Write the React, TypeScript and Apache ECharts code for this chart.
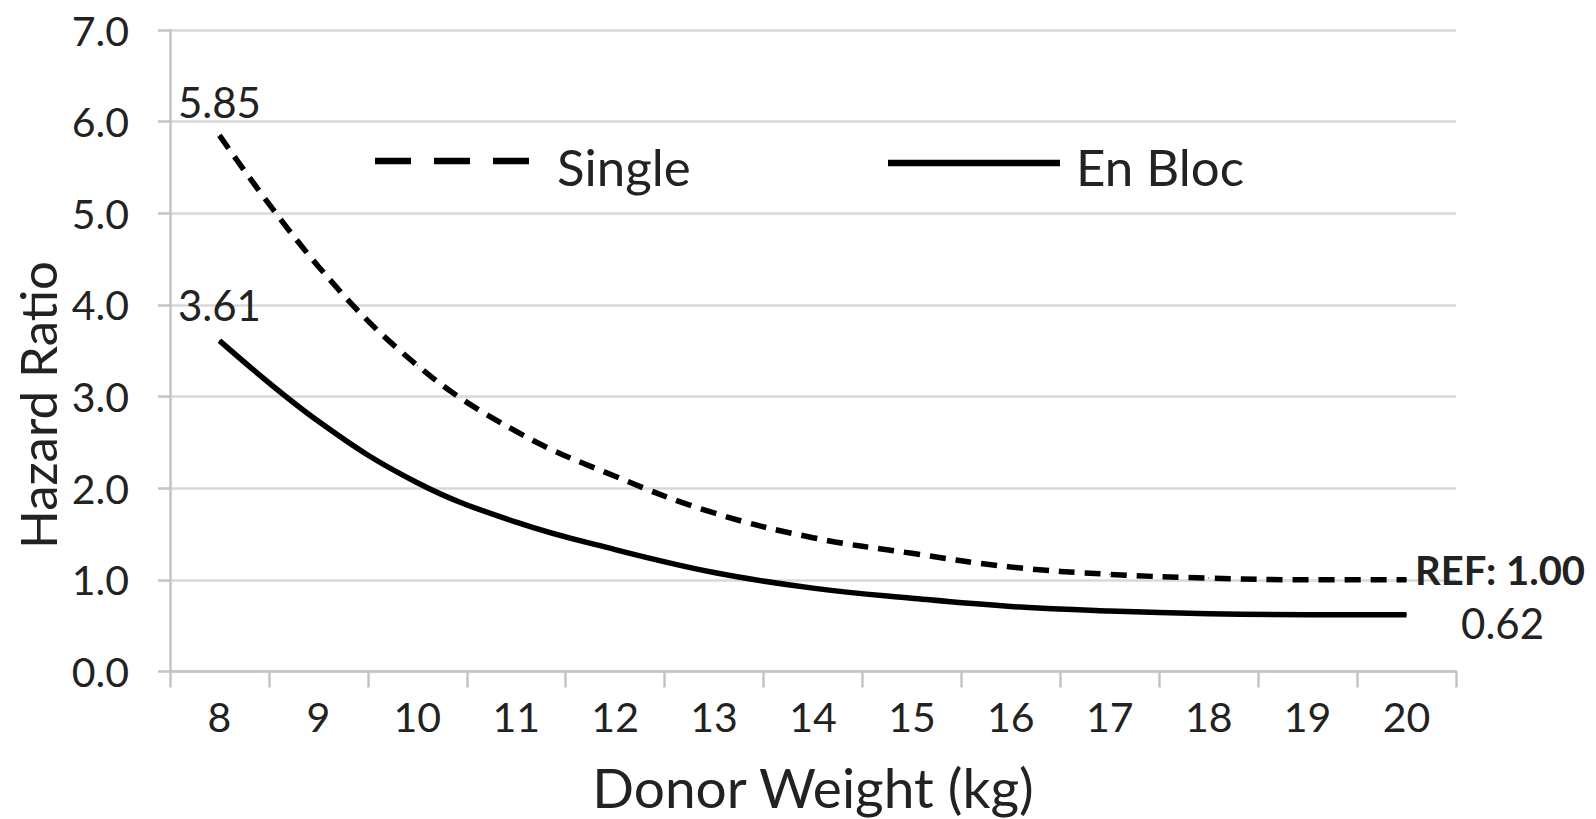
import React, { useEffect, useRef } from "react";
import * as echarts from "echarts";

const weights = ["8", "9", "10", "11", "12", "13", "14", "15", "16", "17", "18", "19", "20"];
const singleHR = [5.85, 4.42, 3.34, 2.62, 2.13, 1.73, 1.46, 1.29, 1.14, 1.06, 1.02, 1.0, 1.0];
const enBlocHR = [3.61, 2.73, 2.06, 1.63, 1.33, 1.08, 0.91, 0.8, 0.71, 0.66, 0.63, 0.62, 0.62];
const yTicks = [0, 1, 2, 3, 4, 5, 6, 7];
const seriesNames = ["Single", "En Bloc"];
const singleStartLabel = "5.85";
const singleEndLabel = "REF: 1.00";
const enBlocStartLabel = "3.61";
const enBlocEndLabel = "0.62";

const FONT = "Lato";
const TXT = "#222222";

export default function App() {
  const ref = useRef<HTMLDivElement>(null);
  useEffect(() => {
    if (!ref.current) return;
    const chart = echarts.init(ref.current, null, { renderer: "svg" });
    const last = weights.length - 1;
    const mk = (
      vals: number[],
      startLbl: string,
      startDist: number,
      endLbl: string,
      endBold: boolean,
      endSize: number,
      endDist: number,
      endOffY: number
    ) =>
      vals.map((v, i) => {
        if (i === 0)
          return {
            value: v,
            label: { show: true, position: "top", distance: startDist, formatter: startLbl, fontSize: 42, fontFamily: FONT, color: TXT },
          };
        if (i === last)
          return {
            value: v,
            label: {
              show: true,
              position: "right",
              distance: endDist,
              offset: [0, endOffY],
              formatter: endLbl,
              fontSize: endSize,
              fontWeight: endBold ? "bold" : "normal",
              fontFamily: FONT,
              color: TXT,
            },
          };
        return v;
      });
    chart.setOption({
      animation: false,
      backgroundColor: "#ffffff",
      grid: { left: 170, right: 140, top: 30, bottom: 147, containLabel: false },
      xAxis: {
        type: "category",
        data: weights,
        boundaryGap: true,
        axisLine: { show: true, lineStyle: { color: "#c4c4c4", width: 2.5 } },
        axisTick: { show: true, length: 16, lineStyle: { color: "#c4c4c4", width: 2.5 } },
        axisLabel: { fontSize: 41, fontFamily: FONT, color: TXT, margin: 45, interval: 0, verticalAlign: "middle", lineHeight: 41 },
        name: "Donor Weight (kg)",
        nameLocation: "middle",
        nameGap: 115,
        nameTextStyle: { fontSize: 55, fontFamily: FONT, color: TXT, verticalAlign: "middle" },
      },
      yAxis: {
        type: "value",
        min: yTicks[0],
        max: yTicks[yTicks.length - 1],
        interval: 1,
        axisLine: { show: true, lineStyle: { color: "#c4c4c4", width: 2.5 } },
        axisTick: { show: true, length: 12, lineStyle: { color: "#c4c4c4", width: 2.5 } },
        axisLabel: {
          fontSize: 41,
          fontFamily: FONT,
          color: TXT,
          margin: 41,
          formatter: (v: number) => v.toFixed(1),
        },
        splitLine: { show: true, lineStyle: { color: "#d9d9d9", width: 2.5 } },
      },
      graphic: [
        {
          type: "text",
          x: 37,
          y: 405,
          rotation: Math.PI / 2,
          style: { text: "Hazard Ratio", fontSize: 51, fontFamily: FONT, fill: TXT, align: "center", verticalAlign: "middle" },
        },
        {
          type: "line",
          shape: { x1: 375, y1: 161, x2: 530, y2: 161 },
          style: { stroke: "#000", lineWidth: 6.5, lineDash: [36, 23] },
        },
        {
          type: "text",
          x: 557,
          y: 166,
          style: { text: seriesNames[0], fontSize: 51, fontFamily: FONT, fill: TXT, align: "left", verticalAlign: "middle" },
        },
        {
          type: "line",
          shape: { x1: 888, y1: 163, x2: 1060, y2: 163 },
          style: { stroke: "#000", lineWidth: 6.5 },
        },
        {
          type: "text",
          x: 1076,
          y: 166,
          style: { text: seriesNames[1], fontSize: 51, fontFamily: FONT, fill: TXT, align: "left", verticalAlign: "middle" },
        },
      ],
      series: [
        {
          name: seriesNames[0],
          type: "line",
          smooth: 0.4,
          symbol: "circle",
          symbolSize: 1,
          showAllSymbol: true,
          itemStyle: { color: "#000" },
          lineStyle: { color: "#000", width: 5.5, type: [16, 10] },
          data: mk(singleHR, singleStartLabel, 12, singleEndLabel, true, 40, 8, -10),
        },
        {
          name: seriesNames[1],
          type: "line",
          smooth: 0.4,
          symbol: "circle",
          symbolSize: 1,
          showAllSymbol: true,
          itemStyle: { color: "#000" },
          lineStyle: { color: "#000", width: 5.5 },
          data: mk(enBlocHR, enBlocStartLabel, 14, enBlocEndLabel, false, 42, 54, 8),
        },
      ],
    });
    return () => chart.dispose();
  }, []);
  return <div ref={ref} style={{ position: "fixed", left: 0, top: 0, width: 1596, height: 819 }} />;
}
